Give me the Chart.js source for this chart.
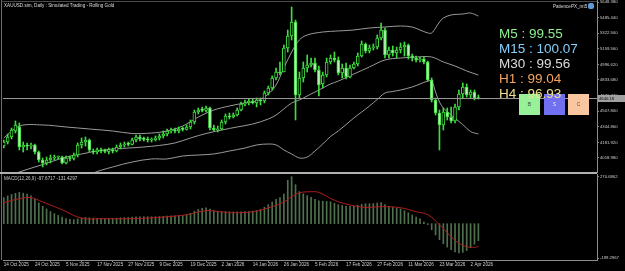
<!DOCTYPE html>
<html>
<head>
<meta charset="utf-8">
<script src="https://cdn.jsdelivr.net/npm/chart.js@4.4.1/dist/chart.umd.min.js"></script>
<style>
  html, body { margin: 0; padding: 0; background: #000; }
  body { position: relative; width: 625px; height: 271px; overflow: hidden; font-family: 'Liberation Sans', Arial, sans-serif; }
  .abs { position: absolute; }
  .small { position: absolute; font-size: 4.6px; line-height: 5px; color: #dcdcdc; white-space: nowrap; }
  .tf { font-size: 13.5px; line-height: 15px; white-space: nowrap; }
  .btn { position: absolute; top: 94px; width: 21px; height: 21px; font-size: 5px; line-height: 21px; text-align: center; }
</style>
</head>
<body>
<canvas id="priceChart" class="abs" width="625" height="192" style="left:0;top:-10px"></canvas>
<canvas id="macdChart" class="abs" width="625" height="107" style="left:0;top:164px"></canvas>

<div class="abs" style="left:1px;top:0;width:1px;height:260px;background:#6e6e6e"></div>
<div class="abs" style="left:1px;top:1px;width:596px;height:1px;background:#4a4a4a"></div>
<div class="abs" style="left:0;top:172px;width:597px;height:2px;background:#b0b0b0"></div>

<div class="small" style="left:4px;top:3px">XAUUSD.sim, Daily : Simulated Trading - Rolling Gold</div>
<div class="small" style="left:553px;top:3.5px">PatiencePX_mt5</div>
<div class="abs" style="left:588px;top:3px;width:6px;height:6px;border-radius:2px;background:#5b9bd8"></div>
<div class="small" style="left:4px;top:176px;color:#c8c8c8">MACD(12,26,9) -97.6717 -131.4297</div>

<div class="btn" style="left:519px;background:#98f098;color:#335533">B</div>
<div class="btn" style="left:544px;background:#7070f0;color:#e8e8ff">S</div>
<div class="btn" style="left:568px;background:#f9c6a0;color:#7a4a2a">C</div>
<div id="tfBox" class="abs" style="left:499px;top:26px"></div>

<div class="abs" style="left:598px;top:95px;width:26px;height:7px;background:#a0a0a0;color:#000;font-size:4.2px;line-height:7px;padding-left:1px">4640.18</div>

<script>
// price data, one value per daily bar (14 Oct 2025 .. 6 Apr 2026)
const opens = [4144,4186,4238,4301,4343,4134,4155,4144,4155,4082,
  3998,3967,3998,4019,4029,4029,3967,4019,4014,4050,
  4155,4186,4207,4092,4082,4103,4092,4088,4103,4092,
  4134,4155,4165,4161,4207,4238,4218,4214,4207,4211,
  4228,4249,4270,4301,4311,4301,4322,4318,4343,4395,
  4499,4520,4516,4541,4332,4311,4322,4395,4458,4447,
  4468,4520,4583,4594,4614,4594,4625,4614,4698,4750,
  4855,4917,4917,5168,5293,5439,4677,4855,4959,4990,
  5011,4938,4792,4886,5022,5063,5043,4907,4959,4865,
  4959,5001,5084,5210,5137,5168,5178,5272,5356,5095,
  5147,5116,5147,5178,5199,5084,5063,5043,5053,5022,
  4834,4625,4489,4364,4499,4447,4406,4552,4687,4761,
  4677,4708,4646]
const highs = [4207,4270,4332,4406,4385,4186,4176,4176,4165,4092,
  4019,4029,4050,4050,4040,4040,4040,4040,4071,4176,
  4228,4238,4218,4113,4123,4123,4113,4123,4123,4155,
  4176,4186,4186,4228,4259,4259,4238,4238,4228,4249,
  4270,4301,4322,4332,4332,4343,4343,4364,4416,4520,
  4541,4552,4562,4552,4364,4353,4416,4479,4489,4489,
  4541,4604,4625,4635,4635,4646,4646,4719,4771,4876,
  4959,5022,5199,5356,5596,5460,4917,5022,5095,5063,
  5063,4980,4917,5063,5095,5126,5074,5001,5011,4990,
  5022,5116,5241,5220,5199,5210,5304,5429,5377,5178,
  5189,5178,5220,5231,5210,5105,5084,5074,5074,5032,
  4855,4646,4520,4541,4541,4552,4583,4729,4802,4792,
  4729,4729,4677]
const lows = [4123,4165,4218,4280,4103,4082,4103,4113,4061,3977,
  3925,3946,3967,3998,4009,3956,3956,3988,3998,4029,
  4123,4144,4082,4061,4061,4071,4071,4061,4071,4082,
  4113,4134,4144,4155,4186,4197,4197,4186,4186,4197,
  4207,4228,4249,4280,4280,4280,4301,4311,4322,4374,
  4479,4499,4499,4311,4301,4291,4311,4374,4426,4437,
  4458,4510,4562,4573,4583,4552,4573,4594,4677,4729,
  4834,4886,4917,5126,5252,4416,4646,4813,4917,4970,
  4917,4667,4750,4865,5001,5022,4886,4855,4844,4855,
  4949,4980,5074,5116,5116,5147,5157,5252,5063,5063,
  5084,5063,5116,5084,5053,5032,5022,5022,5001,4823,
  4604,4468,4103,4311,4416,4385,4385,4520,4646,4656,
  4646,4625,4635]
const closes = [4186,4238,4311,4364,4134,4155,4144,4155,4082,3998,
  3967,3998,4019,4029,4033,3967,4019,4014,4050,4155,
  4186,4207,4103,4082,4103,4092,4088,4103,4092,4134,
  4155,4165,4161,4207,4238,4218,4214,4207,4211,4228,
  4249,4270,4301,4311,4301,4322,4318,4343,4395,4499,
  4520,4516,4541,4332,4311,4322,4395,4458,4447,4468,
  4520,4583,4594,4614,4594,4625,4614,4698,4750,4855,
  4917,4907,5168,5293,5439,4677,4855,4959,4990,5011,
  4938,4781,4886,5022,5063,5043,4907,4959,4865,4959,
  5001,5084,5210,5137,5168,5178,5272,5356,5095,5147,
  5116,5147,5178,5199,5084,5063,5043,5053,5022,4834,
  4625,4489,4364,4499,4447,4406,4552,4687,4761,4677,
  4708,4646,4640]
const bidPrice = 4640

// bollinger bands: [bar, price]
const bbUpper = [[0,4228],[4,4353],[10,4364],[16,4343],[22,4322],[28,4301],[33,4275],[38,4280],[42,4301],[46,4353],
  [50,4447],[54,4520],[58,4562],[62,4594],[65,4614],[68,4687],[70,4781],[72,4959],[74,5126],[76,5252],
  [78,5304],[82,5335],[86,5346],[90,5356],[94,5377],[98,5387],[102,5398],[105,5387],[107,5356],[109,5325],
  [110,5325],[111,5377],[112,5439],[113,5481],[115,5513],[118,5523],[120,5533],[122,5502]]
const bbMiddle = [[0,3810],[4,3873],[8,3925],[12,3977],[16,4029],[20,4061],[24,4092],[28,4113],[32,4123],[36,4134],
  [40,4150],[44,4176],[48,4228],[52,4275],[56,4311],[60,4343],[64,4374],[68,4426],[70,4468],[72,4531],
  [74,4594],[76,4625],[78,4667],[80,4708],[82,4750],[84,4792],[86,4823],[90,4896],[94,4970],[98,5043],
  [102,5063],[106,5074],[110,5074],[113,5022],[116,4980],[119,4928],[122,4886]]
const bbLower = [[14,3685],[18,3758],[20,3789],[23,3862],[28,3925],[33,3977],[38,4009],[42,4009],[46,4040],[50,4050],
  [54,4061],[58,4092],[62,4123],[65,4155],[68,4165],[70,4155],[72,4103],[74,4061],[76,4019],[78,4029],
  [80,4092],[82,4165],[84,4244],[86,4301],[90,4437],[92,4499],[94,4562],[96,4630],[98,4698],[100,4714],
  [102,4729],[105,4761],[107,4792],[109,4823],[110,4823],[111,4708],[112,4604],[113,4541],[115,4468],[118,4368],
  [120,4295],[122,4270]]

// MACD(12,26,9) main line, one value per bar
const macdMain = [150,160,168,175,180,176,170,160,140,120,
  100,85,70,58,48,38,30,25,23,28,
  33,36,34,32,31,31,31,31,31,32,
  34,35,36,38,40,40,40,40,40,40,
  41,42,44,45,46,47,48,52,60,72,
  82,88,92,84,76,72,70,70,69,68,
  68,69,70,70,72,75,82,95,110,125,
  140,150,170,250,270.6862,225,185,172,162,152,
  140,132,130,128,126,118,110,105,100,100,
  102,106,112,115,115,116,119,121,110,100,
  95,90,85,75,63,50,38,28,10,-5,
  -35,-65,-92,-115,-135,-150,-162,-168,-165,-155,
  -138,-118,-97.6717]
// signal line: [bar, value]
const macdSignal = [[0,121],[4,144],[7,150],[10,125],[15,80],[20,32],[25,29],[33,29],[42,40],[47,52],
  [52,75],[56,68],[59,63],[64,69],[69,98],[72,125],[74,156],[76,178],[79,184],[81,180],
  [85,135],[89,108],[93,94],[97,98],[102,92],[106,69],[109,52],[112,-6],[115,-75],[117,-112],
  [119,-132],[121,-136],[122,-131.4297]]

// axis labels
const dateLabels = ['14 Oct 2025','24 Oct 2025','5 Nov 2025','17 Nov 2025','27 Nov 2025','9 Dec 2025','19 Dec 2025','2 Jan 2026',
  '14 Jan 2026','26 Jan 2026','5 Feb 2026','17 Feb 2026','27 Feb 2026','11 Mar 2026','23 Mar 2026','2 Apr 2026']
const labelBars = [0,8,16,24,32,40,48,56,64,72,80,88,96,104,112,120]
const priceTicks = [4018.98,4181.92,4344.86,4507.80,4670.74,4833.68,4996.62,5159.56,5322.50,5485.44,5648.38]
const macdTicks = [270.6862,-199.2967]

const tfNames = ['M5','M15','M30','H1','H4']
const tfValues = ['99.55','100.07','99.56','99.04','96.93']
const tfColors = ['#90ee90','#87cefa','#dcdcdc','#f4a460','#eee08c']

const FONT = "'Liberation Sans', Arial, sans-serif"
const AXIS = '#8c8c8c'
const TEXT = '#cfcfcf'
const CANDLE = '#3fdc3f'
const X_MIN = -0.2, X_MAX = 152.5

Chart.defaults.font.family = FONT
Chart.defaults.animation = false

tfNames.forEach((n, i) => {
  const d = document.createElement('div')
  d.className = 'tf'
  d.style.color = tfColors[i]
  d.textContent = n + ' : ' + tfValues[i]
  document.getElementById('tfBox').appendChild(d)
})

const pts = pairs => pairs.map(([x, y]) => ({ x, y }))
const bodies = opens.map((o, i) => ({ x: i, y: [o, closes[i]] }))
const wicks = opens.map((o, i) => ({ x: i, y: [lows[i], highs[i]] }))
const bodyFill = opens.map((o, i) => closes[i] >= o ? '#000000' : '#b8f2b8')

const band = (data) => ({
  type: 'line', data: pts(data), borderColor: '#9a9a9a', borderWidth: 1,
  pointRadius: 0, tension: 0.35, order: 3
})

new Chart('priceChart', {
  type: 'bar',
  data: {
    datasets: [
      band(bbUpper), band(bbMiddle), band(bbLower),
      { type: 'line', data: [{ x: X_MIN, y: bidPrice }, { x: X_MAX, y: bidPrice }],
        borderColor: '#9c9c9c', borderWidth: 1, pointRadius: 0, order: 0 },
      { data: wicks, backgroundColor: CANDLE, barThickness: 1, grouped: false, order: 2 },
      { data: bodies, backgroundColor: bodyFill, borderColor: CANDLE, borderWidth: 1,
        borderSkipped: false, barThickness: 3, minBarLength: 1, grouped: false, order: 1 }
    ]
  },
  options: {
    responsive: false,
    devicePixelRatio: 1,
    events: [],
    layout: { padding: { left: 3, top: 10, bottom: 10, right: 0 } },
    plugins: { legend: { display: false }, tooltip: { enabled: false } },
    scales: {
      x: { type: 'linear', min: X_MIN, max: X_MAX, offset: false, display: false },
      y: {
        position: 'right', min: 3872.7, max: 5669.3, bounds: 'data',
        afterBuildTicks: s => { s.ticks = priceTicks.map(v => ({ value: v })) },
        afterFit: s => { s.width = 28 },
        ticks: { autoSkip: false, color: TEXT, padding: 1, font: { size: 4.2 }, callback: v => v.toFixed(3) },
        grid: { drawOnChartArea: false, tickLength: 2, color: AXIS },
        border: { color: AXIS }
      }
    }
  }
})

new Chart('macdChart', {
  type: 'bar',
  data: {
    datasets: [
      { type: 'line', data: pts(macdSignal), borderColor: '#b01c1c', borderWidth: 1,
        pointRadius: 0, tension: 0.4, order: 0 },
      { data: macdMain.map((v, i) => ({ x: i, y: v })), backgroundColor: '#4f714f',
        barThickness: 1, grouped: false, order: 1 }
    ]
  },
  options: {
    responsive: false,
    devicePixelRatio: 1,
    events: [],
    layout: { padding: { left: 3, top: 10, bottom: 0, right: 0 } },
    plugins: { legend: { display: false }, tooltip: { enabled: false } },
    scales: {
      x: {
        type: 'linear', min: X_MIN, max: X_MAX, offset: false,
        afterBuildTicks: s => { s.ticks = labelBars.map(v => ({ value: v })) },
        afterFit: s => { s.height = 11 },
        ticks: { autoSkip: false, maxRotation: 0, minRotation: 0, align: 'start', color: TEXT, padding: 0,
          font: { size: 4.6 }, callback: v => dateLabels[labelBars.indexOf(v)] },
        grid: { drawOnChartArea: false, tickLength: 2, color: AXIS },
        border: { color: AXIS }
      },
      y: {
        position: 'right', min: -209.1, max: 286.2, bounds: 'data',
        afterBuildTicks: s => { s.ticks = macdTicks.map(v => ({ value: v })) },
        afterFit: s => { s.width = 28 },
        ticks: { autoSkip: false, color: TEXT, padding: 1, font: { size: 4.2 }, callback: v => v.toFixed(4) },
        grid: { drawOnChartArea: false, tickLength: 2, color: AXIS },
        border: { color: AXIS }
      }
    }
  }
})
</script>
</body>
</html>
